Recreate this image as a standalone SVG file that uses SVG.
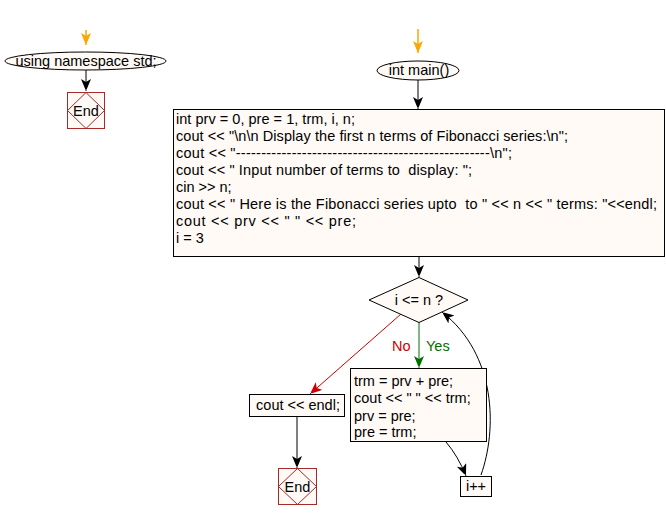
<svg xmlns="http://www.w3.org/2000/svg" width="666" height="521" viewBox="0 0 666 521" xml:space="preserve">
<style>
text{font-family:"Liberation Sans",Arial,sans-serif;font-size:14.5px;fill:#000;white-space:pre}
.box{fill:#FFFAF5;stroke:#000;stroke-width:1}
.endb{fill:#FFFAF5;stroke:#A52A2A;stroke-width:1}
.endd{fill:none;stroke:#A52A2A;stroke-width:1}
.c{fill:none;stroke:#000;stroke-width:1}
.mid{text-anchor:middle}
</style>
<defs>
<marker id="ab" markerUnits="userSpaceOnUse" markerWidth="10" markerHeight="12" refX="12" refY="5" orient="auto"><path d="M0,0 L12,5 L0,10 L3,5 z" fill="#000"/></marker>
<marker id="ar" markerUnits="userSpaceOnUse" markerWidth="10" markerHeight="12" refX="12" refY="5" orient="auto"><path d="M0,0 L12,5 L0,10 L3,5 z" fill="#CC0000"/></marker>
<marker id="ag" markerUnits="userSpaceOnUse" markerWidth="10" markerHeight="12" refX="12" refY="5" orient="auto"><path d="M0,0 L12,5 L0,10 L3,5 z" fill="#007000"/></marker>
<marker id="ao" markerUnits="userSpaceOnUse" markerWidth="10" markerHeight="12" refX="12" refY="5" orient="auto"><path d="M0,0 L12,5 L0,10 L3,5 z" fill="#FFA500"/></marker>
</defs>
<g id="connectors">
<line x1="86" y1="30" x2="86" y2="45" stroke="#FFA500" stroke-width="1.5" marker-end="url(#ao)"/>
<line x1="86" y1="70" x2="86" y2="91" class="c" marker-end="url(#ab)"/>
<line x1="418" y1="29" x2="418" y2="53" stroke="#FFA500" stroke-width="1.5" marker-end="url(#ao)"/>
<line x1="418" y1="80" x2="418" y2="109" class="c" marker-end="url(#ab)"/>
<line x1="419" y1="257" x2="419" y2="277" class="c" marker-end="url(#ab)"/>
<line x1="401" y1="314" x2="310" y2="394" stroke="#CC0000" stroke-width="1" marker-end="url(#ar)"/>
<line x1="419" y1="322" x2="419" y2="368" stroke="#007000" stroke-width="1" marker-end="url(#ag)"/>
<line x1="297" y1="417" x2="297" y2="468" class="c" marker-end="url(#ab)"/>
<path d="M446,442 Q458,456 466,476" class="c" marker-end="url(#ab)"/>
<path d="M481,475 C497,430 497,355 442,312" class="c" marker-end="url(#ab)"/>
<text x="392" y="351" style="fill:#CC0000">No</text>
<text x="426" y="351" style="fill:#007000">Yes</text>
</g>
<g id="using">
<ellipse cx="85.5" cy="61" rx="80.5" ry="9" class="box"/>
<text x="86" y="66" class="mid">using namespace std;</text>
</g>
<g id="end1">
<rect x="67.5" y="92.5" width="37" height="36" class="endb"/>
<polygon points="86,92.5 104.5,110.5 86,128.5 67.5,110.5" class="endd"/>
<text x="86" y="116" class="mid">End</text>
</g>
<g id="main">
<ellipse cx="418" cy="70.5" rx="41" ry="9.5" class="box"/>
<text x="419" y="75" class="mid">int main()</text>
</g>
<g id="init">
<rect x="173.5" y="109.5" width="491" height="147" class="box"/>
<text x="176" y="124" textLength="179" lengthAdjust="spacing">int prv = 0, pre = 1, trm, i, n;</text>
<text x="176" y="141" textLength="392" lengthAdjust="spacing">cout &lt;&lt; "\n\n Display the first n terms of Fibonacci series:\n";</text>
<text x="176" y="158" textLength="336" lengthAdjust="spacing">cout &lt;&lt; "--------------------------------------------------\n";</text>
<text x="176" y="175" textLength="296" lengthAdjust="spacing">cout &lt;&lt; " Input number of terms to  display: ";</text>
<text x="176" y="192">cin &gt;&gt; n;</text>
<text x="176" y="209" textLength="481" lengthAdjust="spacing">cout &lt;&lt; " Here is the Fibonacci series upto  to " &lt;&lt; n &lt;&lt; " terms: "&lt;&lt;endl;</text>
<text x="176" y="226" textLength="180" lengthAdjust="spacing">cout &lt;&lt; prv &lt;&lt; " " &lt;&lt; pre;</text>
<text x="176" y="243">i = 3</text>
</g>
<g id="cond">
<polygon points="419,277.5 468,300 419,322.5 369,300" class="box"/>
<text x="419" y="305" class="mid">i &lt;= n ?</text>
</g>
<g id="body">
<rect x="350.5" y="368.5" width="136" height="73" class="box"/>
<text x="354" y="386">trm = prv + pre;</text>
<text x="354" y="403">cout &lt;&lt; " " &lt;&lt; trm;</text>
<text x="354" y="421">prv = pre;</text>
<text x="354" y="437">pre = trm;</text>
</g>
<g id="endl">
<rect x="249.5" y="394.5" width="95" height="22" class="box"/>
<text x="298" y="410" class="mid">cout &lt;&lt; endl;</text>
</g>
<g id="end2">
<rect x="278.5" y="468.5" width="38" height="36" class="endb"/>
<polygon points="297.5,468.5 316.5,486.5 297.5,504.5 278.5,486.5" class="endd"/>
<text x="297.5" y="492" class="mid">End</text>
</g>
<g id="inc">
<rect x="460.5" y="476.5" width="31" height="20" class="box"/>
<text x="476" y="491" class="mid">i++</text>
</g>
</svg>
